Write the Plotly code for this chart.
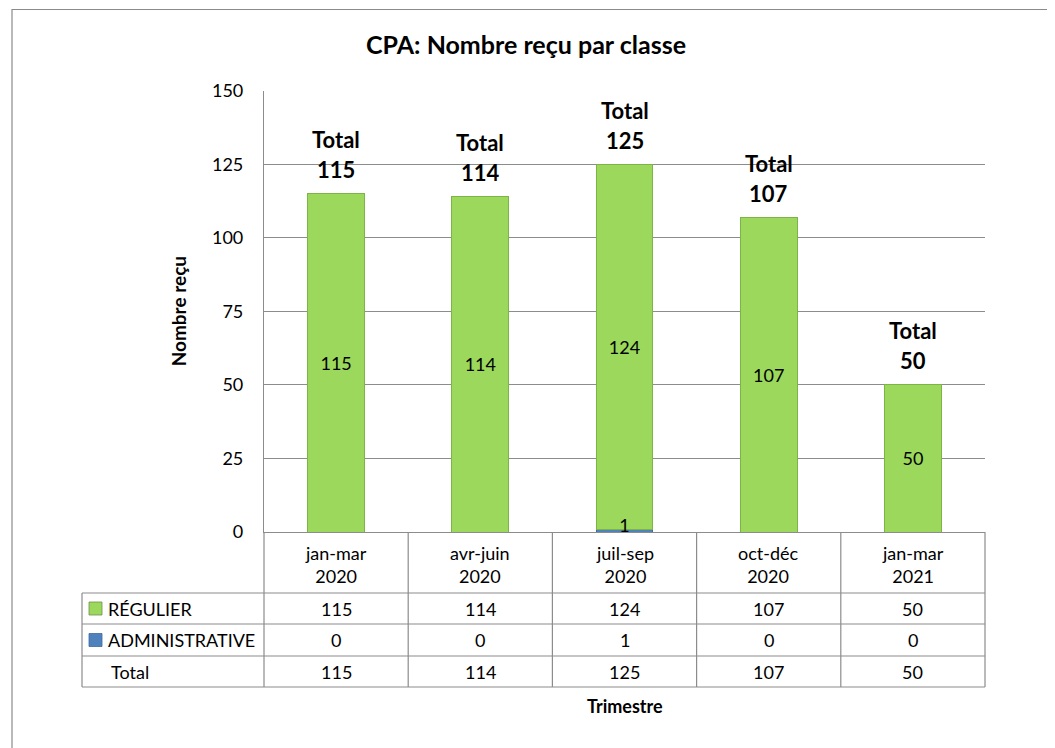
import plotly.graph_objects as go

categories = ["jan-mar<br>2020", "avr-juin<br>2020", "juil-sep<br>2020", "oct-déc<br>2020", "jan-mar<br>2021"]
regulier = [115, 114, 124, 107, 50]
administrative = [0, 0, 1, 0, 0]
totals = [r + a for r, a in zip(regulier, administrative)]
series_names = ["RÉGULIER", "ADMINISTRATIVE", "Total"]
y_ticks = [0, 25, 50, 75, 100, 125, 150]

# page body has an 8px margin: figure is sized so that it fills the window
OFF = 8
W, H = 1055 - OFF, 748 - OFF
FONT = "Lato"
GREEN = "#9bd85c"
GREEN_LINE = "#7db446"
BLUE = "#4f81bd"
GRID = "#8c8c8c"


def px(x):
    return (x - OFF) / W


def py(y):
    return 1 - (y - OFF) / H


xd = [px(264), px(985)]
yd = [py(532), py(90.7)]
n = len(categories)

fig = go.Figure()
fig.add_trace(go.Bar(
    x=list(range(n)), y=administrative, name=series_names[1],
    marker=dict(color=BLUE, line=dict(color="#3d6a9e", width=1)),
    width=0.395, textposition="none", hoverinfo="y",
))
fig.add_trace(go.Bar(
    x=list(range(n)), y=regulier, name=series_names[0],
    marker=dict(color=GREEN, line=dict(color=GREEN_LINE, width=1)),
    width=0.395, text=[str(v) for v in regulier], textposition="inside",
    insidetextanchor="middle", textangle=0,
    textfont=dict(family=FONT, size=18, color="black"), hoverinfo="y",
))
adm_idx = [i for i, v in enumerate(administrative) if v > 0]
fig.add_trace(go.Scatter(
    x=adm_idx, y=[administrative[i] / 2 + 1 for i in adm_idx],
    text=[str(administrative[i]) for i in adm_idx], mode="text",
    textfont=dict(family=FONT, size=18, color="black"), showlegend=False,
    hoverinfo="skip",
))

annotations = []
for i, t in enumerate(totals):
    annotations.append(dict(x=i, y=t, xref="x", yref="y", text="<b>%d</b>" % t,
                            showarrow=False, yshift=24, xanchor="center", yanchor="middle",
                            font=dict(family=FONT, size=22, color="black")))
    annotations.append(dict(x=i, y=t, xref="x", yref="y", text="<b>Total</b>",
                            showarrow=False, yshift=54, xanchor="center", yanchor="middle",
                            font=dict(family=FONT, size=22, color="black")))

shapes = []
shapes.append(dict(type="rect", xref="paper", yref="paper", x0=px(12), x1=px(1080),
                   y0=py(9.5), y1=py(780), line=dict(color="#8a8a8a", width=1.2)))

row_lines = [532, 593, 624, 656, 687]
col_w = (xd[1] - xd[0]) / n
col_edges = [xd[0] + i * col_w for i in range(n + 1)]
left = px(82)
for ry in row_lines[1:]:
    shapes.append(dict(type="line", xref="paper", yref="paper", x0=left, x1=xd[1],
                       y0=py(ry), y1=py(ry), line=dict(color=GRID, width=1.2)))
for ce in col_edges:
    shapes.append(dict(type="line", xref="paper", yref="paper", x0=ce, x1=ce,
                       y0=py(532), y1=py(687), line=dict(color=GRID, width=1.2)))
shapes.append(dict(type="line", xref="paper", yref="paper", x0=left, x1=left,
                   y0=py(593), y1=py(687), line=dict(color=GRID, width=1.2)))

for i, c in enumerate(categories):
    annotations.append(dict(x=(col_edges[i] + col_edges[i + 1]) / 2, y=py(564.5), xref="paper",
                            yref="paper", text=c, showarrow=False,
                            xanchor="center", yanchor="middle",
                            font=dict(family=FONT, size=18, color="black")))

row_values = [regulier, administrative, totals]
row_keys = [GREEN, BLUE, None]
for r, (name, vals, key) in enumerate(zip(series_names, row_values, row_keys)):
    yc = (row_lines[r + 1] + row_lines[r + 2]) / 2
    annotations.append(dict(x=px(106 if key else 109), y=py(yc), xref="paper", yref="paper",
                            text=name, showarrow=False, xanchor="left", yanchor="middle",
                            font=dict(family=FONT, size=18, color="black")))
    if key:
        shapes.append(dict(type="rect", xref="paper", yref="paper", x0=px(89), x1=px(102),
                           y0=py(yc - 6.5), y1=py(yc + 6.5), fillcolor=key,
                           line=dict(color="#6f8f50" if key == GREEN else "#3d6a9e", width=0.8)))
    for i, v in enumerate(vals):
        annotations.append(dict(x=(col_edges[i] + col_edges[i + 1]) / 2, y=py(yc), xref="paper",
                                yref="paper", text=str(v), showarrow=False,
                                xanchor="center", yanchor="middle",
                                font=dict(family=FONT, size=18, color="black")))

annotations.append(dict(x=px(526), y=py(44), xref="paper", yref="paper",
                        text="<b>CPA: Nombre reçu par classe</b>", showarrow=False,
                        xanchor="center", yanchor="middle",
                        font=dict(family=FONT, size=25, color="black")))
annotations.append(dict(x=(xd[0] + xd[1]) / 2, y=py(706), xref="paper", yref="paper",
                        text="<b>Trimestre</b>", showarrow=False,
                        xanchor="center", yanchor="middle",
                        font=dict(family=FONT, size=18, color="black")))
annotations.append(dict(x=px(178), y=(yd[0] + yd[1]) / 2, xref="paper", yref="paper",
                        text="<b>Nombre reçu</b>", showarrow=False, textangle=-90,
                        xanchor="center", yanchor="middle",
                        font=dict(family=FONT, size=19, color="black")))

fig.update_layout(
    width=W, height=H, margin=dict(l=0, r=0, t=0, b=0, autoexpand=False),
    paper_bgcolor="white", plot_bgcolor="white",
    barmode="stack", showlegend=False,
    xaxis=dict(domain=xd, range=[-0.5, n - 0.5], showticklabels=False, showgrid=False,
               zeroline=False, showline=True, linecolor=GRID, linewidth=1.2, ticks="",
               automargin=False),
    yaxis=dict(domain=yd, range=[0, 150], tickvals=y_ticks, showgrid=True, gridcolor=GRID,
               gridwidth=1, zeroline=False, showline=True, linecolor=GRID, linewidth=1.2,
               ticks="", ticklabelstandoff=16, automargin=False,
               tickfont=dict(family=FONT, size=18, color="black")),
    shapes=shapes, annotations=annotations,
)

fig.write_html("out.html")
